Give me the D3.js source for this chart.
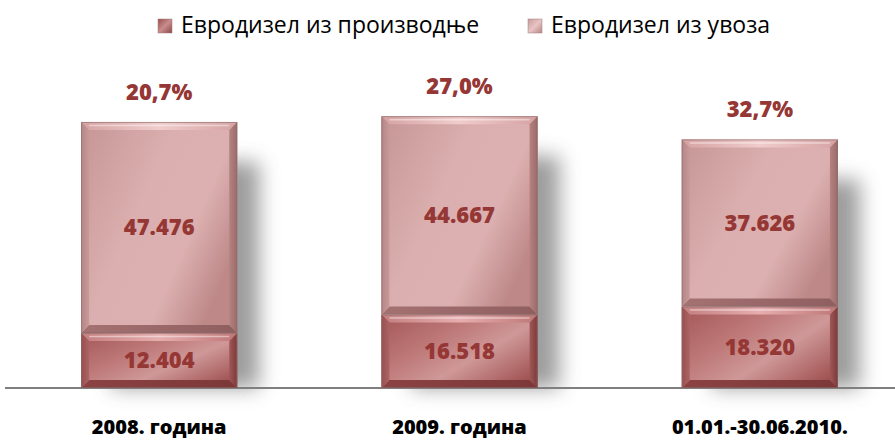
<!DOCTYPE html>
<html>
<head>
<meta charset="utf-8">
<script src="https://cdn.jsdelivr.net/npm/d3@7"></script>
<style>
  html, body { margin: 0; padding: 0; background: #fff; }
  svg { display: block; }
</style>
</head>
<body>
<svg></svg>
<script>
var width = 895
var height = 441
var margin = ({top: 77, right: -15, bottom: 53, left: 9})

// data
var categories = ["2008. година", "2009. година", "01.01.-30.06.2010."]
var seriesNames = ["Евродизел из производње", "Евродизел из увоза"]
var production = [12404, 16518, 18320]
var imports = [47476, 44667, 37626]
var shareLabels = ["20,7%", "27,0%", "32,7%"]

var fmt = v => d3.format(",")(v).replace(/,/g, ".")
var labelColor = "#953735"
var font = "'Open Sans', 'Noto Sans', sans-serif"

var x = d3.scaleBand()
    .domain(categories)
    .range([margin.left, width - margin.right])
    .paddingInner(0.48)
    .paddingOuter(0.24)
var y = d3.scaleLinear()
    .domain([0, 70000])
    .range([height - margin.bottom, margin.top])

var stack = d3.stack().keys([0, 1])
var rows = categories.map((c, i) => ({cat: c, 0: production[i], 1: imports[i]}))
var layers = stack(rows)

const svg = d3.select("svg")
    .attr("width", width)
    .attr("height", height)
    .attr("viewBox", [0, 0, width, height])

const defs = svg.append("defs")

var blur = defs.append("filter").attr("id", "shadowBlur")
    .attr("x", "-50%").attr("y", "-50%").attr("width", "200%").attr("height", "200%")
blur.append("feGaussianBlur").attr("stdDeviation", 10)

function grad(id, stops, x1, y1, x2, y2) {
    var g = defs.append("linearGradient").attr("id", id)
        .attr("x1", x1).attr("y1", y1).attr("x2", x2).attr("y2", y2)
    stops.forEach(s => g.append("stop").attr("offset", s[0]).attr("stop-color", s[1]))
}
// upper segment (import) palette
grad("face1", [[0, "#c69595"], [0.45, "#dbafaf"], [0.75, "#dcb0b0"], [1, "#be8888"]], 0, 0, 1, 0.6)
grad("top1", [[0, "#d6a2a2"], [0.5, "#f0cccc"], [1, "#d6a2a2"]], 0, 0, 1, 0)
grad("bot1", [[0, "#a57272"], [1, "#8f5e5e"]], 0, 0, 1, 0)
grad("left1", [[0, "#b68686"], [1, "#c89999"]], 0, 0, 1, 0)
grad("right1", [[0, "#b68282"], [1, "#9a6a6a"]], 0, 0, 1, 0)
// lower segment (production) palette
grad("face0", [[0, "#a45656"], [0.4, "#bf7a7a"], [0.65, "#cf9898"], [1, "#a25454"]], 0, 0, 1, 0.8)
grad("top0", [[0, "#c47e7e"], [0.5, "#e6aeae"], [1, "#c07676"]], 0, 0, 1, 0)
grad("bot0", [[0, "#8c4242"], [1, "#7c3838"]], 0, 0, 1, 0)
grad("left0", [[0, "#984e4e"], [1, "#ab6464"]], 0, 0, 1, 0)
grad("right0", [[0, "#9f5858"], [1, "#7d3838"]], 0, 0, 1, 0)
grad("legend0", [[0, "#9a4e4e"], [0.5, "#c98c8c"], [1, "#8e4646"]], 0, 0, 1, 1)
grad("legend1", [[0, "#c79a9a"], [0.5, "#e8c4c4"], [1, "#b88686"]], 0, 0, 1, 1)

// shadows to the right of each bar
svg.append("g")
    .selectAll("rect")
    .data(rows)
    .join("rect")
    .attr("x", d => x(d.cat) + 30)
    .attr("y", (d, i) => y(production[i] + imports[i]) + 40)
    .attr("width", x.bandwidth() - 8)
    .attr("height", (d, i) => y(0) - y(production[i] + imports[i]) - 40)
    .attr("fill", "#8c8c8c")
    .attr("opacity", 0.85)
    .attr("filter", "url(#shadowBlur)")

// axis line
svg.append("line")
    .attr("x1", 5).attr("x2", width)
    .attr("y1", y(0)).attr("y2", y(0))
    .attr("stroke", "#7f7f7f")
    .attr("stroke-width", 2)

// bevelled segments
var b = 8
layers.forEach((layer, k) => {
    var g = svg.append("g")
    layer.forEach(d => {
        var x0 = x(d.data.cat), x1 = x0 + x.bandwidth()
        var y0 = y(d[1]), y1 = y(d[0])
        var seg = g.append("g")
        seg.append("rect")
            .attr("x", x0).attr("y", y0)
            .attr("width", x1 - x0).attr("height", y1 - y0)
            .attr("fill", `url(#face${k})`)
        var poly = (pts, fill) => seg.append("polygon")
            .attr("points", pts.map(p => p.join(",")).join(" "))
            .attr("fill", fill)
        poly([[x0, y0], [x1, y0], [x1 - b, y0 + b], [x0 + b, y0 + b]], `url(#top${k})`)
        poly([[x0, y1], [x1, y1], [x1 - b, y1 - b], [x0 + b, y1 - b]], `url(#bot${k})`)
        poly([[x0, y0], [x0 + b, y0 + b], [x0 + b, y1 - b], [x0, y1]], `url(#left${k})`)
        poly([[x1, y0], [x1 - b, y0 + b], [x1 - b, y1 - b], [x1, y1]], `url(#right${k})`)
        seg.append("line")
            .attr("x1", x0 + b).attr("x2", x1 - b)
            .attr("y1", y0 + 3.5).attr("y2", y0 + 3.5)
            .attr("stroke", "#fff").attr("stroke-opacity", 0.45).attr("stroke-width", 1.5)
        seg.append("rect")
            .attr("x", x0 + 0.5).attr("y", y0 + 0.5)
            .attr("width", x1 - x0 - 1).attr("height", y1 - y0 - 1)
            .attr("fill", "none").attr("stroke", "#8a6a6a").attr("stroke-opacity", 0.6)
        seg.append("text")
            .attr("x", (x0 + x1) / 2)
            .attr("y", (y0 + y1) / 2)
            .attr("dy", "0.36em")
            .attr("text-anchor", "middle")
            .attr("fill", labelColor)
            .style("font", `800 22px ${font}`)
            .text(fmt(d.data[k]))
    })
})

// share labels above bars
svg.append("g")
    .selectAll("text")
    .data(rows)
    .join("text")
    .attr("x", d => x(d.cat) + x.bandwidth() / 2)
    .attr("y", (d, i) => y(production[i] + imports[i]) - 22)
    .attr("text-anchor", "middle")
    .attr("fill", labelColor)
    .style("font", `800 22px ${font}`)
    .text((d, i) => shareLabels[i])

// category labels
svg.append("g")
    .selectAll("text")
    .data(categories)
    .join("text")
    .attr("x", d => x(d) + x.bandwidth() / 2)
    .attr("y", 434)
    .attr("text-anchor", "middle")
    .attr("fill", "#000")
    .style("font", `800 20px ${font}`)
    .text(d => d)

// legend
var legend = svg.append("g")
var lx = [158, 528]
seriesNames.forEach((name, i) => {
    legend.append("rect")
        .attr("x", lx[i]).attr("y", 19)
        .attr("width", 14).attr("height", 14)
        .attr("fill", `url(#legend${i})`)
        .attr("stroke", "#a08080").attr("stroke-width", 0.5)
    legend.append("text")
        .attr("x", lx[i] + 23).attr("y", 33)
        .attr("fill", "#000")
        .style("font", `23px ${font}`)
        .text(name)
})
</script>
</body>
</html>
